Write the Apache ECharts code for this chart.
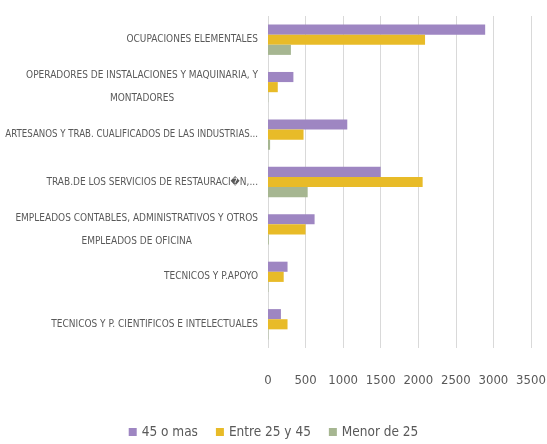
<!DOCTYPE html>
<html>
<head>
<meta charset="utf-8">
<script src="https://cdn.jsdelivr.net/npm/echarts@6/dist/echarts.min.js"></script>
<style>
  html, body { margin: 0; padding: 0; background: #fff; }
  #main { width: 547px; height: 444px; }
</style>
</head>
<body>
<div id="main"></div>
<script>
// categorias de abajo hacia arriba
var categories = [
  'TECNICOS Y P. CIENTIFICOS E INTELECTUALES',
  'TECNICOS Y P.APOYO',
  'EMPLEADOS CONTABLES, ADMINISTRATIVOS Y OTROS\nEMPLEADOS DE OFICINA',
  'TRAB.DE LOS SERVICIOS DE RESTAURACI\uFFFDN,...',
  'ARTESANOS Y TRAB. CUALIFICADOS DE LAS INDUSTRIAS...',
  'OPERADORES DE INSTALACIONES Y MAQUINARIA, Y\nMONTADORES',
  'OCUPACIONES ELEMENTALES'
];
var seriesNames = ['45 o mas', 'Entre 25 y 45', 'Menor de 25'];
var mas45 = [172, 260, 620, 1500, 1055, 338, 2890];
var entre25y45 = [260, 209, 500, 2058, 473, 130, 2090];
var menor25 = [5, 5, 10, 528, 28, 3, 305];
var xTicks = [0, 500, 1000, 1500, 2000, 2500, 3000, 3500];

var fontName = "'DejaVu Sans Condensed', sans-serif";
var colors = ['#9E86C2', '#E8BB28', '#A6B691'];

var myChart = echarts.init(document.getElementById('main'));

var option = {
  animation: false,
  color: colors,
  textStyle: { fontFamily: fontName },
  grid: {
    left: 268,
    right: 16,
    top: 16,
    bottom: 96,
    outerBoundsMode: 'none',
    containLabel: false
  },
  legend: {
    data: seriesNames,
    bottom: 0,
    left: 'center',
    itemWidth: 8,
    itemHeight: 8,
    itemGap: 18,
    icon: 'rect',
    textStyle: { color: '#595959', fontSize: 13.5, fontFamily: fontName }
  },
  xAxis: {
    type: 'value',
    min: xTicks[0],
    max: xTicks[xTicks.length - 1],
    interval: 500,
    axisLine: { show: false },
    axisTick: { show: false },
    splitLine: { lineStyle: { color: '#D9D9D9' } },
    axisLabel: {
      color: '#595959', fontSize: 13, margin: 26, fontFamily: fontName,
      showMaxLabel: true,
      formatter: function (v) { return String(v); }
    }
  },
  yAxis: {
    type: 'category',
    data: categories,
    axisLine: { show: false },
    axisTick: { show: false },
    axisLabel: {
      margin: 10,
      color: '#595959',
      fontSize: 10,
      lineHeight: 23,
      fontFamily: fontName,
      formatter: function (v) {
        // la etiqueta larga de una linea va un poco mas pequena para que quepa
        return v.split('\n').map(function (l) {
          return (l.length > 48 ? '{s|' : '{c|') + l + '}';
        }).join('\n');
      },
      rich: {
        c: { align: 'center', color: '#595959', fontSize: 10, lineHeight: 23, fontFamily: fontName },
        s: { align: 'center', color: '#595959', fontSize: 9.6, lineHeight: 23, fontFamily: fontName }
      }
    }
  },
  series: [
    { name: seriesNames[0], type: 'bar', data: mas45, barGap: '0%', barCategoryGap: '36%' },
    { name: seriesNames[1], type: 'bar', data: entre25y45, barGap: '0%', barCategoryGap: '36%' },
    { name: seriesNames[2], type: 'bar', data: menor25, barGap: '0%', barCategoryGap: '36%' }
  ]
};

myChart.setOption(option);
</script>
</body>
</html>
